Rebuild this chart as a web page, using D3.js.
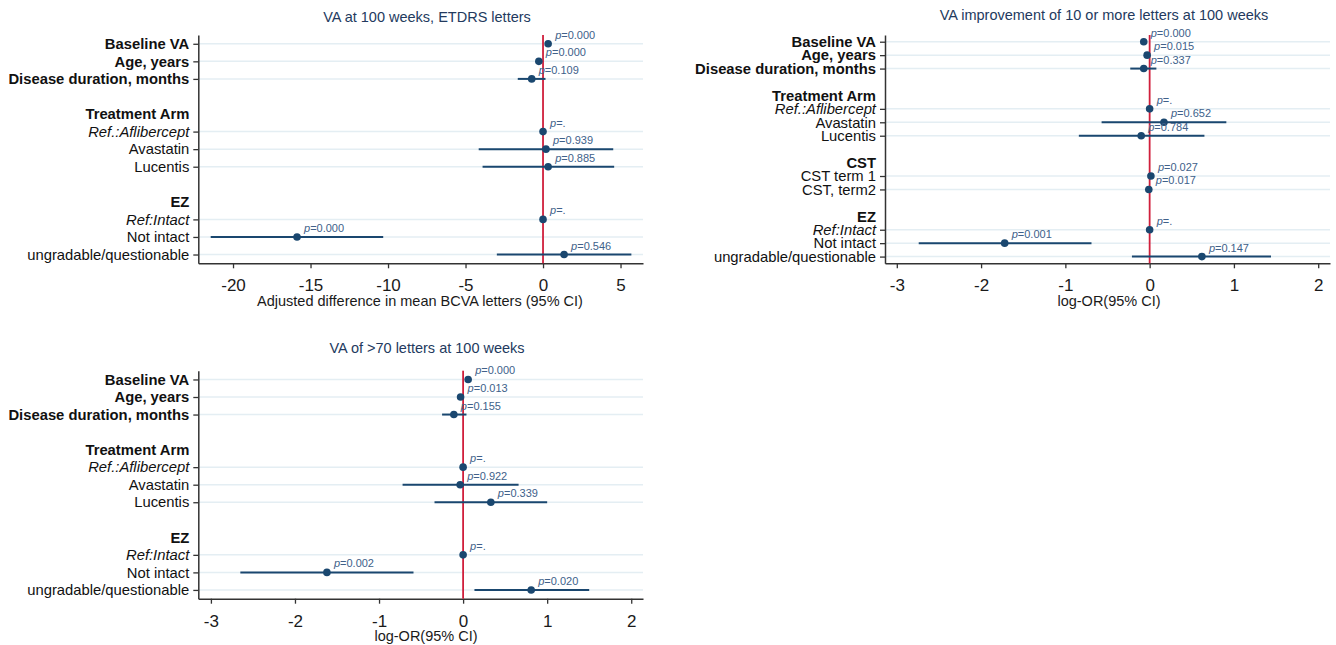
<!DOCTYPE html>
<html>
<head>
<meta charset="utf-8">
<script src="https://cdn.jsdelivr.net/npm/d3@7/dist/d3.min.js"></script>
<style>
  body { margin: 0; background: #fff; }
  svg { font-family: "Liberation Sans", Arial, sans-serif; }
</style>
</head>
<body>
<script>
// row labels, "" is a blank spacer row
const rows1 = ["Baseline VA", "Age, years", "Disease duration, months", "", "Treatment Arm",
  "Ref.:Aflibercept", "Avastatin", "Lucentis", "", "EZ", "Ref:Intact", "Not intact", "ungradable/questionable"];
const est1 = [0.33, -0.27, -0.73, null, null, 0, 0.19, 0.33, null, null, 0, -15.87, 1.36];
const lo1  = [0.2, -0.4, -1.63, null, null, 0, -4.15, -3.9, null, null, 0, -21.44, -2.98];
const hi1  = [0.45, -0.15, 0.16, null, null, 0, 4.53, 4.59, null, null, 0, -10.31, 5.7];
const p1   = ["0.000", "0.000", "0.109", null, null, ".", "0.939", "0.885", null, null, ".", "0.000", "0.546"];

const rows2 = ["Baseline VA", "Age, years", "Disease duration, months", "", "Treatment Arm",
  "Ref.:Aflibercept", "Avastatin", "Lucentis", "", "CST", "CST term 1", "CST, term2", "",
  "EZ", "Ref:Intact", "Not intact", "ungradable/questionable"];
const est2 = [-0.07, -0.03, -0.07, null, null, 0, 0.17, -0.1, null, null, 0.015, -0.01, null, null, 0, -1.72, 0.62];
const lo2  = [-0.1, -0.05, -0.23, null, null, 0, -0.57, -0.84, null, null, 0.0, -0.02, null, null, 0, -2.74, -0.21];
const hi2  = [-0.04, -0.01, 0.08, null, null, 0, 0.91, 0.65, null, null, 0.03, 0.0, null, null, 0, -0.69, 1.44];
const p2   = ["0.000", "0.015", "0.337", null, null, ".", "0.652", "0.784", null, null, "0.027", "0.017", null, null, ".", "0.001", "0.147"];

const rows3 = rows1;
const est3 = [0.06, -0.03, -0.11, null, null, 0, -0.035, 0.33, null, null, 0, -1.62, 0.81];
const lo3  = [0.03, -0.05, -0.25, null, null, 0, -0.72, -0.34, null, null, 0, -2.65, 0.135];
const hi3  = [0.09, -0.01, 0.04, null, null, 0, 0.66, 1.0, null, null, 0, -0.59, 1.5];
const p3   = ["0.000", "0.013", "0.155", null, null, ".", "0.922", "0.339", null, null, ".", "0.002", "0.020"];

const ticksDiff = [-20, -15, -10, -5, 0, 5];
const ticksOR = [-3, -2, -1, 0, 1, 2];

const boldRows = ["Baseline VA", "Age, years", "Disease duration, months", "Treatment Arm", "EZ", "CST"];
const italicRows = ["Ref.:Aflibercept", "Ref:Intact"];
const headerRows = ["", "Treatment Arm", "EZ", "CST"];

const navy = "#1a476f";

const svg = d3.select("body").append("svg")
  .attr("width", 1336).attr("height", 645);

function panel(o) {
  const g = svg.append("g");
  const x = d3.scaleLinear().domain(o.domain).range([o.left, o.right]);
  const y = d3.scalePoint().domain(d3.range(o.rows.length)).range([o.top, o.bottom]).padding(0.5);
  const dataIdx = d3.range(o.rows.length).filter(i => o.est[i] != null);

  // grid
  g.selectAll(".grid").data(dataIdx).join("line")
    .attr("x1", o.left).attr("x2", o.right)
    .attr("y1", i => y(i)).attr("y2", i => y(i))
    .attr("stroke", "#e4eef3").attr("stroke-width", 1.5);

  // x axis (plain hyphen minus like the original)
  const xa = g.append("g").attr("transform", `translate(0,${o.bottom})`)
    .call(d3.axisBottom(x).tickValues(o.ticks).tickSize(5).tickSizeOuter(0).tickFormat(d => String(d)));
  xa.select(".domain").attr("stroke", "#333").attr("stroke-width", 1.5);
  xa.selectAll(".tick line").attr("stroke", "#333").attr("stroke-width", 1.3);
  xa.selectAll(".tick text").attr("y", 28).attr("dy", 0)
    .attr("font-size", 17).attr("fill", "#1a1a1a").attr("font-family", "Liberation Sans, Arial, sans-serif");

  // y axis
  const ya = g.append("g").attr("transform", `translate(${o.left},0)`)
    .call(d3.axisLeft(y).tickSize(5).tickSizeOuter(0).tickPadding(4).tickFormat(i => o.rows[i]));
  ya.select(".domain").attr("stroke", "#333").attr("stroke-width", 1.5);
  ya.selectAll(".tick line").attr("stroke", "#333").attr("stroke-width", 1.3)
    .attr("display", i => headerRows.includes(o.rows[i]) ? "none" : null);
  ya.selectAll(".tick text")
    .attr("font-size", 14.8).attr("fill", "#111").attr("font-family", "Liberation Sans, Arial, sans-serif")
    .attr("font-weight", i => boldRows.includes(o.rows[i]) ? "bold" : "normal")
    .attr("font-style", i => italicRows.includes(o.rows[i]) ? "italic" : "normal");

  // reference line at 0
  g.append("line")
    .attr("x1", x(0)).attr("x2", x(0)).attr("y1", o.top).attr("y2", o.bottom)
    .attr("stroke", "#d01f3c").attr("stroke-width", 1.8);

  // CI
  g.selectAll(".ci").data(dataIdx).join("line")
    .attr("x1", i => x(o.lo[i])).attr("x2", i => x(o.hi[i]))
    .attr("y1", i => y(i)).attr("y2", i => y(i))
    .attr("stroke", navy).attr("stroke-width", 2);

  g.selectAll(".dot").data(dataIdx).join("circle")
    .attr("cx", i => x(o.est[i])).attr("cy", i => y(i)).attr("r", 3.8)
    .attr("fill", navy);

  const lab = g.selectAll(".plab").data(dataIdx).join("text")
    .attr("x", i => x(o.est[i]) + 7).attr("y", i => y(i) - 5)
    .attr("font-size", 11).attr("fill", "#40618a");
  lab.append("tspan").attr("font-style", "italic").text("p");
  lab.append("tspan").text(i => "=" + o.p[i]);

  g.append("text").attr("x", o.titleX).attr("y", o.titleY).attr("text-anchor", "middle")
    .attr("font-size", 14.5).attr("fill", "#233a5e").text(o.title);
  g.append("text").attr("x", o.xTitleX).attr("y", o.bottom + 42.5).attr("text-anchor", "middle")
    .attr("font-size", 14.5).attr("fill", "#1a1a1a").text(o.xTitle);
}

panel({ rows: rows1, est: est1, lo: lo1, hi: hi1, p: p1,
  domain: [-22.24, 6.45], ticks: ticksDiff,
  left: 198.3, right: 643, top: 35, bottom: 263.3,
  title: "VA at 100 weeks, ETDRS letters", titleX: 427, titleY: 22,
  xTitle: "Adjusted difference in mean BCVA letters (95% CI)", xTitleX: 420 });

panel({ rows: rows2, est: est2, lo: lo2, hi: hi2, p: p2,
  domain: [-3.14, 2.14], ticks: ticksOR,
  left: 885, right: 1330, top: 35, bottom: 263.3,
  title: "VA improvement of 10 or more letters at 100 weeks", titleX: 1104, titleY: 20,
  xTitle: "log-OR(95% CI)", xTitleX: 1109 });

panel({ rows: rows3, est: est3, lo: lo3, hi: hi3, p: p3,
  domain: [-3.15, 2.14], ticks: ticksOR,
  left: 198.3, right: 643, top: 370.7, bottom: 598.7,
  title: "VA of >70 letters at 100 weeks", titleX: 427, titleY: 353,
  xTitle: "log-OR(95% CI)", xTitleX: 426 });
</script>
</body>
</html>
